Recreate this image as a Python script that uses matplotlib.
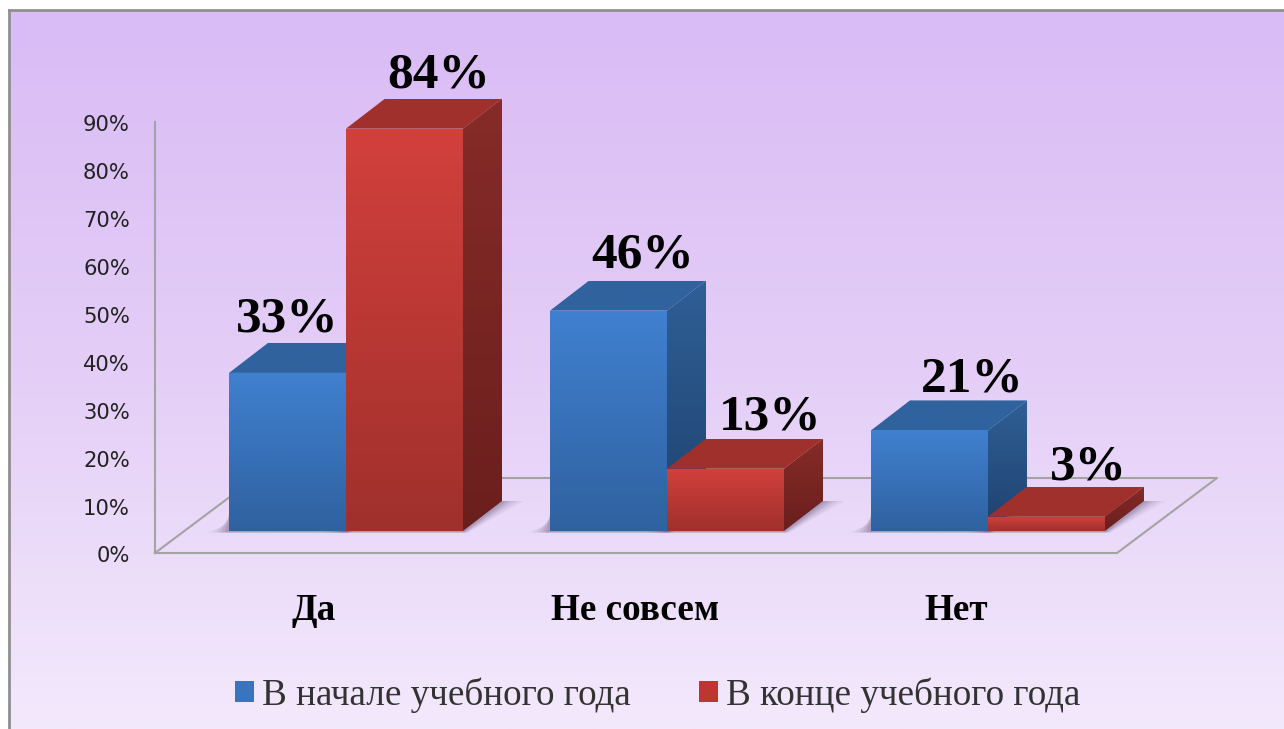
import numpy as np
import matplotlib
matplotlib.use("Agg")
import matplotlib.pyplot as plt
from matplotlib.patches import Polygon, Patch
from matplotlib.colors import LinearSegmentedColormap
from matplotlib.transforms import ScaledTranslation

categories = ["Да", "Не совсем", "Нет"]
series_names = ["В начале учебного года", "В конце учебного года"]
start_values = [33, 46, 21]
end_values = [84, 13, 3]
y_ticks = [0, 10, 20, 30, 40, 50, 60, 70, 80, 90]

# figure is laid out in pixels, these turn pixels into axis units
W, H = 1284, 729
PX_X = 1 / 321
PX_Y = 1 / 4.79
x_at_0 = 346
y_at_0 = 553

bar_w = 117 * PX_X
depth_x = 39 * PX_X
depth_y = 30 * PX_Y
base = 22 * PX_Y

fig = plt.figure(figsize=(W / 100, H / 100), dpi=100, facecolor="white")

# background panel
bg = fig.add_axes([9 / W, 0, 1 - 9 / W, 1 - 10 / H])
bg_cmap = LinearSegmentedColormap.from_list("bg", ["#D9BBF5", "#E4CEF7", "#F3E9FC"])
bg.imshow(np.linspace(0, 1, 256).reshape(-1, 1), cmap=bg_cmap, aspect="auto")
bg.set_xticks([])
bg.set_yticks([])
for s in ["right", "bottom"]:
    bg.spines[s].set_visible(False)
for s in ["left", "top"]:
    bg.spines[s].set_color("#8F8F8F")
    bg.spines[s].set_linewidth(2.0)

ax = fig.add_axes([0, 0, 1, 1])
ax.patch.set_alpha(0)
xlim = (-x_at_0 * PX_X, (W - x_at_0) * PX_X)
ylim = ((y_at_0 - H) * PX_Y, y_at_0 * PX_Y)


def grad_poly(points, top_color, bottom_color, zorder):
    poly = Polygon(points, closed=True, facecolor="none", edgecolor="none", zorder=zorder)
    ax.add_patch(poly)
    xs = [p[0] for p in points]
    ys = [p[1] for p in points]
    cm = LinearSegmentedColormap.from_list("g", [top_color, bottom_color])
    im = ax.imshow(np.linspace(0, 1, 64).reshape(-1, 1), cmap=cm, aspect="auto",
                   extent=(min(xs), max(xs), min(ys), max(ys)), zorder=zorder,
                   interpolation="bilinear")
    im.set_clip_path(poly)


def draw_bar(left, value, colors, z):
    right = left + bar_w
    bottom = base
    top = base + value
    # soft shadow on the floor, stacked polygons instead of a blur
    for grow, alpha in zip([22, 17, 12, 8, 4], [0.05, 0.07, 0.09, 0.11, 0.14]):
        g = grow * PX_X
        ax.add_patch(Polygon([(left - g, bottom - 1.5 * PX_Y), (right + g * 0.25, bottom - 1.5 * PX_Y),
                              (right + depth_x + g, bottom + depth_y),
                              (right, bottom + depth_y),
                              (left, bottom + (20 - grow * 0.6) * PX_Y)],
                             closed=True, facecolor="#4A3A5A", edgecolor="none",
                             alpha=alpha, zorder=2))
    grad_poly([(left, top), (left + depth_x, top + depth_y),
               (right + depth_x, top + depth_y), (right, top)],
              colors["top"], colors["top"], z)
    grad_poly([(right, bottom), (right, top), (right + depth_x, top + depth_y),
               (right + depth_x, bottom + depth_y)],
              colors["side_top"], colors["side_bottom"], z)
    grad_poly([(left, bottom), (left, top), (right, top), (right, bottom)],
              colors["front_top"], colors["front_bottom"], z + 0.1)


blue = {"top": "#30639E", "side_top": "#2F5F96", "side_bottom": "#1F426F",
        "front_top": "#4080D0", "front_bottom": "#2F62A0"}
red = {"top": "#A0302C", "side_top": "#862B28", "side_bottom": "#6B1F1D",
       "front_top": "#D2403C", "front_bottom": "#A0302C"}

# floor and walls
floor_color = "#A3A3A3"
x0 = (155 - x_at_0) * PX_X
floor_w = 962 * PX_X
slant_x = 100 * PX_X
slant_y = 75 * PX_Y
ax.plot([x0, x0 + floor_w, x0 + floor_w + slant_x, x0 + slant_x, x0],
        [0, 0, slant_y, slant_y, 0], color=floor_color, lw=1.5, zorder=1)

groups = np.arange(len(categories))
for i in groups:
    z = 3 + i
    draw_bar(groups[i] - bar_w, start_values[i], blue, z)
    draw_bar(groups[i], end_values[i], red, z + 0.3)

# labels are not centred the same way on each bar in the source picture
start_nudge = [(0, 11), (34, 13), (43, 9)]
end_nudge = [(34, 11), (45, 9), (42, 7)]
for i in groups:
    for vals, left, nudge in [(start_values, groups[i] - bar_w, start_nudge),
                              (end_values, groups[i], end_nudge)]:
        top = base + vals[i] + depth_y
        ax.annotate(f"{vals[i]}%", (left + bar_w / 2, top),
                    xytext=(nudge[i][0] * 0.72, nudge[i][1] * 0.72), textcoords="offset points",
                    ha="center", va="baseline", fontsize=37, fontweight="bold",
                    family="Liberation Serif", color="black", zorder=20)

ax.set_xlim(xlim)
ax.set_ylim(ylim)

ax.spines["top"].set_visible(False)
ax.spines["right"].set_visible(False)
ax.spines["bottom"].set_position(("data", 0))
ax.spines["bottom"].set_visible(False)
ax.spines["left"].set_position(("data", x0))
ax.spines["left"].set_bounds(0, 90)
ax.spines["left"].set_color(floor_color)
ax.spines["left"].set_linewidth(1.5)

ax.set_yticks(y_ticks)
ax.set_yticklabels([f"{t}%" for t in y_ticks], fontsize=15.2, family="DejaVu Sans", color="#222222")
ax.tick_params(axis="y", length=0, pad=18)
down = ScaledTranslation(0, -3.5 / 100, fig.dpi_scale_trans)
for lab in ax.get_yticklabels():
    lab.set_verticalalignment("center")
    lab.set_transform(lab.get_transform() + down)

ax.set_xticks(groups - 32 * PX_X)
ax.set_xticklabels(categories, fontsize=26.7, fontweight="bold", family="Liberation Serif", color="black")
ax.tick_params(axis="x", length=0, pad=29)

handles = [Patch(facecolor="#3A74BE", edgecolor="none"), Patch(facecolor="#BE3632", edgecolor="none")]
ax.legend(handles, series_names, loc="center", bbox_to_anchor=(658 / W, 1 - 695 / H),
          ncol=2, frameon=False, prop={"family": "Liberation Serif", "size": 26.7},
          labelcolor="#333333", handlelength=0.51, handleheight=0.51,
          handletextpad=0.22, columnspacing=1.84)

fig.savefig("out.png", dpi=100)
